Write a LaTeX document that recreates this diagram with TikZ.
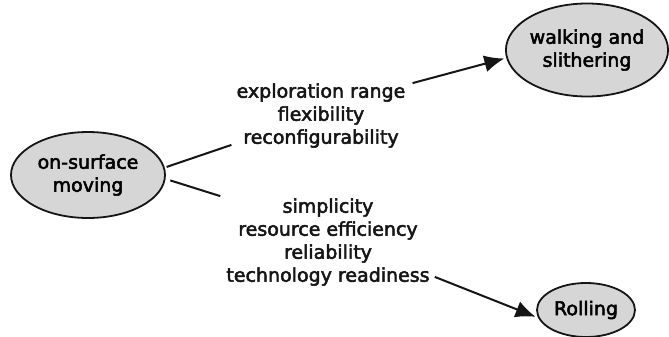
\documentclass[tikz,border=0pt]{standalone}
\usepackage{fontspec}
\setmainfont{DejaVu Sans}[FakeBold=2.6]
\usepackage{tikz}
\usetikzlibrary{shapes,arrows.meta,positioning,calc}
\definecolor{movgray}{HTML}{D6D6D6}
\definecolor{movline}{HTML}{151515}
\newcommand{\movfont}{\fontsize{19}{23}\selectfont}
\tikzset{
  mode/.style={ellipse, draw=movline, fill=movgray, line width=1.8pt, inner sep=0pt, align=center, font=\movfont},
  crit/.style={align=center, font=\movfont, inner sep=2pt, text=movline},
  link/.style={movline, line width=2pt},
  tip/.style={-{Latex[length=20pt,width=17pt]}},
}

\begin{document}
\begin{tikzpicture}[x=1pt,y=-1pt]
    \useasboundingbox (0,0) rectangle (669,337);
    % Ways of moving
    \node[mode, minimum width=154pt, minimum height=86pt] (surf) at (88,175) {on-surface\\moving};
    \node[mode, minimum width=160pt, minimum height=93pt] (walk) at (587,50) {walking and\\slithering};
    \node[mode, minimum width=98pt, minimum height=54pt] (roll) at (586,310) {Rolling};
    % Criteria
    \node[crit] (gain) at (321,115.5) {exploration range\\flexibility\\reconfigurability};
    \node[crit] (cost) at (328,242) {simplicity\\resource efficiency\\reliability\\technology readiness};
    % Upper branch
    \draw[link] ([xshift=2pt]surf.6) -- ([xshift=-3pt,yshift=5pt]gain.south west);
    \draw[link, tip] ([xshift=5pt,yshift=-2pt]gain.north east) -- ([xshift=-2pt]walk.186);
    % Lower branch
    \draw[link] ([xshift=5pt]surf.-4) -- ([xshift=-4pt]cost.north west);
    \draw[link, tip] ([xshift=3pt,yshift=11pt]cost.south east) -- ([xshift=-2pt]roll.188);
\end{tikzpicture}
\end{document}
